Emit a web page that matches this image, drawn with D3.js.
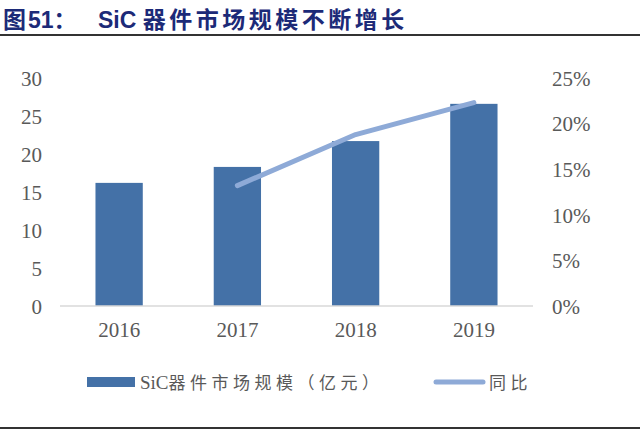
<!DOCTYPE html>
<html>
<head>
<meta charset="utf-8">
<script src="https://cdn.jsdelivr.net/npm/d3@7"></script>
<style>
  body { margin: 0; background: #fff; }
  svg { display: block; }
</style>
</head>
<body>
<script>
// chart data
var years = ["2016", "2017", "2018", "2019"];
var marketSize = [16.2, 18.3, 21.7, 26.6];     // 亿元
var yoyYears = ["2017", "2018", "2019"];
var yoy = [0.132, 0.188, 0.223];
var leftTicks = [0, 5, 10, 15, 20, 25, 30];
var rightTicks = [0, 0.05, 0.10, 0.15, 0.20, 0.25];

var W = 640, H = 432;
var svg = d3.select("body").append("svg").attr("width", W).attr("height", H);

var serif = "'Liberation Serif', 'Times New Roman', serif";
var cjk = "'Noto Sans CJK SC', sans-serif";
var tickColor = "#595959";

// title
var title = svg.append("text")
    .attr("x", 3).attr("y", 28)
    .attr("fill", "#1c2a78")
    .style("font-family", "'Liberation Sans', Arial, " + cjk)
    .style("font-weight", "bold")
    .style("font-size", "23px");
title.append("tspan").text("图").style("font-family", cjk);
title.append("tspan").attr("dx", 2).text("51：");
title.append("tspan").attr("x", 98).text("SiC ");
title.append("tspan").text("器件市场规模不断增长").style("font-family", cjk)
    .style("letter-spacing", "3.5px");

svg.append("line").attr("x1", 0).attr("x2", W).attr("y1", 35).attr("y2", 35)
    .attr("stroke", "#333").attr("stroke-width", 2);
svg.append("line").attr("x1", 0).attr("x2", W).attr("y1", 428).attr("y2", 428)
    .attr("stroke", "#333").attr("stroke-width", 2);

// scales
var x = d3.scaleBand().domain(years).range([60, 533]).paddingInner(0.6).paddingOuter(0.3);
var y = d3.scaleLinear().domain([0, 30]).range([306, 78]);
var y2 = d3.scaleLinear().domain([0, 0.25]).range([306, 78]);

// bars
svg.selectAll("rect.bar")
    .data(marketSize)
    .enter()
    .append("rect")
    .attr("class", "bar")
    .attr("x", function(d, i) { return x(years[i]); })
    .attr("width", x.bandwidth())
    .attr("y", function(d) { return y(d); })
    .attr("height", function(d) { return y(0) - y(d); })
    .attr("fill", "#4471a7");

// baseline
svg.append("line").attr("x1", 60).attr("x2", 533).attr("y1", y(0)).attr("y2", y(0))
    .attr("stroke", "#d9d9d9").attr("stroke-width", 1.5);

// left axis
var leftAxis = svg.append("g")
    .attr("transform", "translate(42,0)")
    .call(d3.axisLeft(y).tickValues(leftTicks).tickSize(0).tickPadding(0));
leftAxis.select(".domain").remove();
leftAxis.selectAll("text")
    .attr("fill", tickColor)
    .attr("dy", "0.35em")
    .style("font-family", serif)
    .style("font-size", "21px");

// right axis
var rightAxis = svg.append("g")
    .attr("transform", "translate(552,0)")
    .call(d3.axisRight(y2).tickValues(rightTicks).tickSize(0).tickPadding(0)
        .tickFormat(d3.format(".0%")));
rightAxis.select(".domain").remove();
rightAxis.selectAll("text")
    .attr("fill", tickColor)
    .attr("dy", "0.35em")
    .style("font-family", serif)
    .style("font-size", "21px");

// bottom axis
var bottomAxis = svg.append("g")
    .attr("transform", "translate(0," + y(0) + ")")
    .call(d3.axisBottom(x).tickSize(0).tickPadding(16));
bottomAxis.select(".domain").remove();
bottomAxis.selectAll("text")
    .attr("fill", tickColor)
    .style("font-family", serif)
    .style("font-size", "21px");

// yoy line
var line = d3.line()
    .x(function(d, i) { return x(yoyYears[i]) + x.bandwidth() / 2; })
    .y(function(d) { return y2(d); });

svg.append("path")
    .datum(yoy)
    .attr("d", line)
    .attr("fill", "none")
    .attr("stroke", "#8eaad7")
    .attr("stroke-width", 5)
    .attr("stroke-linecap", "round")
    .attr("stroke-linejoin", "round");

// legend
var lg = svg.append("g");
lg.append("rect").attr("x", 87).attr("y", 377).attr("width", 48).attr("height", 10).attr("fill", "#4471a7");
var lt = lg.append("text").attr("x", 140).attr("y", 389)
    .attr("fill", tickColor)
    .style("font-size", "17px");
lt.append("tspan").style("font-family", serif).style("font-size", "19px").text("SiC");
lt.append("tspan").style("font-family", cjk).style("letter-spacing", "4.5px")
    .text("器件市场规模（亿元）");
lg.append("line").attr("x1", 436).attr("x2", 483).attr("y1", 382).attr("y2", 382)
    .attr("stroke", "#8eaad7").attr("stroke-width", 5).attr("stroke-linecap", "round");
lg.append("text").attr("x", 489).attr("y", 389)
    .attr("fill", tickColor)
    .style("font-size", "17px")
    .style("letter-spacing", "4.5px")
    .style("font-family", cjk)
    .text("同比");
</script>
</body>
</html>
